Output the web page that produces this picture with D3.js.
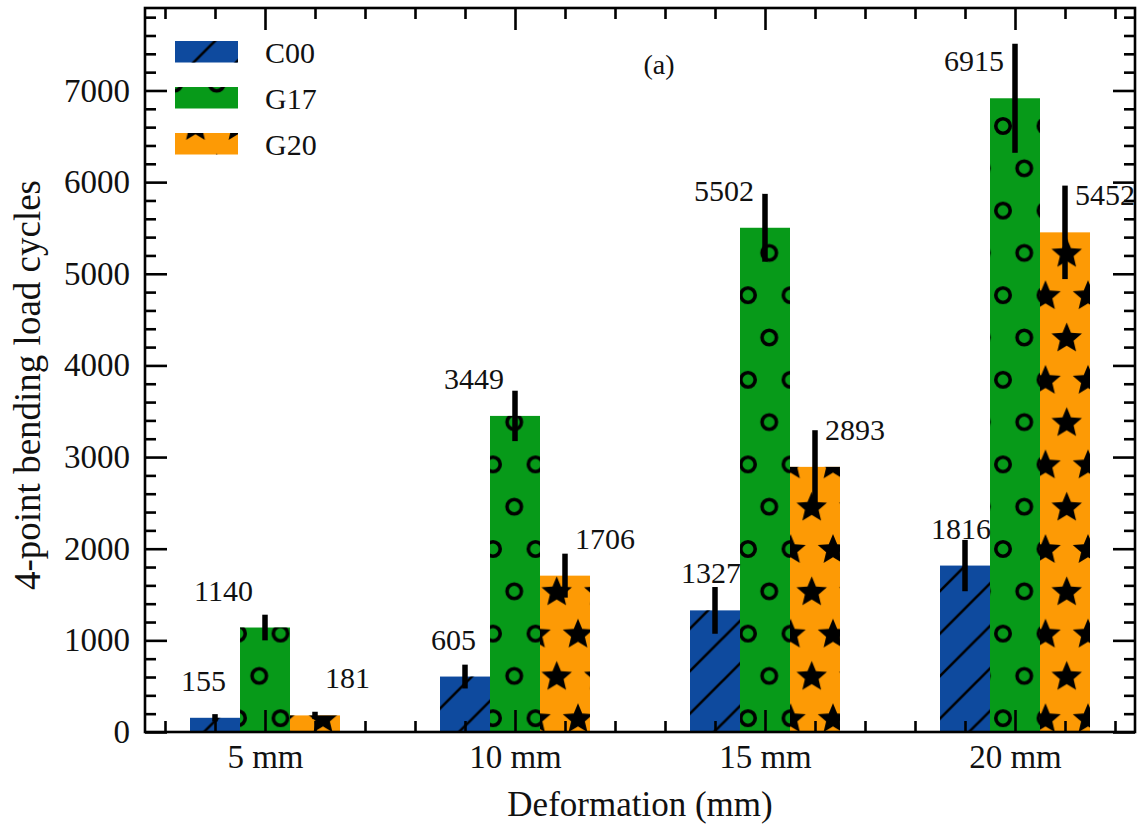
<!DOCTYPE html>
<html>
<head>
<meta charset="utf-8">
<script src="https://cdn.jsdelivr.net/npm/d3@7"></script>
<style>
  body { margin: 0; background: #fff; }
  svg text { font-family: "Liberation Serif", "Times New Roman", serif; }
</style>
</head>
<body>
<script>
// chart data
const categories = ["5 mm", "10 mm", "15 mm", "20 mm"];
const seriesNames = ["C00", "G17", "G20"];
const c00 = [155, 605, 1327, 1816];
const g17 = [1140, 3449, 5502, 6915];
const g20 = [181, 1706, 2893, 5452];
const c00Err = [40, 130, 255, 280];
const g17Err = [140, 275, 370, 595];
const g20Err = [40, 240, 400, 510];
const yTicks = [0, 1000, 2000, 3000, 4000, 5000, 6000, 7000];

const values = [c00, g17, g20];
const errors = [c00Err, g17Err, g20Err];
const colors = ["#0e4a9e", "#079a19", "#fd9a05"];
const patterns = ["hatch", "rings", "stars"];
const labelShift = [-9, -46, 35]; // text left edge relative to bar left

const w = 1137;
const h = 832;

const svg = d3.select("body")
  .append("svg")
  .attr("width", w)
  .attr("height", h);

const x = d3.scaleLinear().domain([-0.48, 3.48]).range([145, 1135]);
const y = d3.scaleLinear().domain([0, 7900]).range([732, 8]);

//patterns, anchored to the page like matplotlib hatches
const P = 42.5, Q = 42.3;
const defs = svg.append("defs");

const hatch = defs.append("pattern")
  .attr("id", "hatch")
  .attr("patternUnits", "userSpaceOnUse")
  .attr("x", 0).attr("y", 1)
  .attr("width", P).attr("height", P);
hatch.append("path")
  .attr("d", `M0,${P} L${P},0 M${-P/4},${P/4} L${P/4},${-P/4} M${3*P/4},${5*P/4} L${5*P/4},${3*P/4}`)
  .attr("stroke", "#000")
  .attr("stroke-width", 2.6);

const lattice = [[0, 0], [P, 0], [0, 2*Q], [P, 2*Q], [P/2, Q]];

const rings = defs.append("pattern")
  .attr("id", "rings")
  .attr("patternUnits", "userSpaceOnUse")
  .attr("x", 25.5).attr("y", 41.4)
  .attr("width", P).attr("height", 2*Q);
rings.selectAll("circle")
  .data(lattice)
  .enter()
  .append("circle")
  .attr("cx", d => d[0])
  .attr("cy", d => d[1])
  .attr("r", 7.2)
  .attr("fill", "none")
  .attr("stroke", "#000")
  .attr("stroke-width", 3.6);

function starPath(cx, cy, R, r) {
  let pts = [];
  for (let k = 0; k < 10; k++) {
    const a = -Math.PI / 2 + k * Math.PI / 5;
    const rad = k % 2 === 0 ? R : r;
    pts.push([cx + rad * Math.cos(a), cy + rad * Math.sin(a)]);
  }
  return "M" + pts.map(p => p.join(",")).join("L") + "Z";
}

const stars = defs.append("pattern")
  .attr("id", "stars")
  .attr("patternUnits", "userSpaceOnUse")
  .attr("x", 25.5).attr("y", 41.4)
  .attr("width", P).attr("height", 2*Q);
stars.selectAll("path")
  .data(lattice)
  .enter()
  .append("path")
  .attr("d", d => starPath(d[0], d[1] + 1, 16, 7.2))
  .attr("fill", "#000");

//bars
const bw = 0.2;
values.forEach(function(vals, s) {
  const off = (s - 1) * bw;
  const g = svg.append("g").attr("class", "series-" + s);
  g.selectAll(".bar")
    .data(vals)
    .enter()
    .append("rect")
    .attr("class", "bar")
    .attr("x", (d, i) => x(i + off - bw / 2))
    .attr("width", x(bw) - x(0))
    .attr("y", d => y(d))
    .attr("height", d => y(0) - y(d))
    .attr("fill", colors[s]);
  g.selectAll(".pat")
    .data(vals)
    .enter()
    .append("rect")
    .attr("class", "pat")
    .attr("x", (d, i) => x(i + off - bw / 2))
    .attr("width", x(bw) - x(0))
    .attr("y", d => y(d))
    .attr("height", d => y(0) - y(d))
    .attr("fill", "url(#" + patterns[s] + ")");
});

//error bars
values.forEach(function(vals, s) {
  const off = (s - 1) * bw;
  svg.append("g").selectAll("line")
    .data(vals)
    .enter()
    .append("line")
    .attr("x1", (d, i) => x(i + off))
    .attr("x2", (d, i) => x(i + off))
    .attr("y1", (d, i) => y(d - errors[s][i]))
    .attr("y2", (d, i) => y(d + errors[s][i]))
    .attr("stroke", "#000")
    .attr("stroke-width", 5.5);
});

//axes: inward ticks on all four sides
const minorX = d3.range(-2, 18).filter(k => k % 5 !== 0).map(k => k * 0.2);
const minorY = d3.range(0, 40).filter(k => k % 5 !== 0).map(k => k * 200);

function styleAxis(g, size) {
  g.select(".domain").remove();
  g.attr("font-family", null).attr("font-size", size);
  g.selectAll(".tick line").attr("stroke-width", 2.6);
  g.selectAll(".tick text").attr("fill", "#111");
}

svg.append("g")
  .attr("transform", "translate(0,732)")
  .call(d3.axisBottom(x).tickValues([0, 1, 2, 3]).tickFormat(i => categories[i])
    .tickSizeInner(-22).tickSizeOuter(0).tickPadding(13))
  .call(g => styleAxis(g, 33));
svg.append("g")
  .attr("transform", "translate(0,732)")
  .call(d3.axisBottom(x).tickValues(minorX).tickFormat("").tickSizeInner(-11).tickSizeOuter(0))
  .call(g => styleAxis(g, 10));
svg.append("g")
  .attr("transform", "translate(0,8)")
  .call(d3.axisTop(x).tickValues([0, 1, 2, 3]).tickFormat("").tickSizeInner(-22).tickSizeOuter(0))
  .call(g => styleAxis(g, 10));
svg.append("g")
  .attr("transform", "translate(0,8)")
  .call(d3.axisTop(x).tickValues(minorX).tickFormat("").tickSizeInner(-11).tickSizeOuter(0))
  .call(g => styleAxis(g, 10));

svg.append("g")
  .attr("transform", "translate(145,0)")
  .call(d3.axisLeft(y).tickValues(yTicks).tickFormat(d3.format("d"))
    .tickSizeInner(-22).tickSizeOuter(0).tickPadding(15))
  .call(g => styleAxis(g, 33));
svg.append("g")
  .attr("transform", "translate(145,0)")
  .call(d3.axisLeft(y).tickValues(minorY).tickFormat("").tickSizeInner(-11).tickSizeOuter(0))
  .call(g => styleAxis(g, 10));
svg.append("g")
  .attr("transform", "translate(1135,0)")
  .call(d3.axisRight(y).tickValues(yTicks).tickFormat("").tickSizeInner(-22).tickSizeOuter(0))
  .call(g => styleAxis(g, 10));
svg.append("g")
  .attr("transform", "translate(1135,0)")
  .call(d3.axisRight(y).tickValues(minorY).tickFormat("").tickSizeInner(-11).tickSizeOuter(0))
  .call(g => styleAxis(g, 10));

//frame
svg.append("rect")
  .attr("x", x.range()[0])
  .attr("y", y.range()[1])
  .attr("width", x.range()[1] - x.range()[0])
  .attr("height", y.range()[0] - y.range()[1])
  .attr("fill", "none")
  .attr("stroke", "#000")
  .attr("stroke-width", 2.6);

//value labels
values.forEach(function(vals, s) {
  const off = (s - 1) * bw;
  svg.append("g").selectAll("text")
    .data(vals)
    .enter()
    .append("text")
    .attr("x", (d, i) => x(i + off - bw / 2) + labelShift[s])
    .attr("y", d => y(d) - 27)
    .attr("font-size", 30)
    .attr("fill", "#111")
    .text(d => d);
});

//legend
const legend = svg.selectAll(".legend")
  .data(seriesNames)
  .enter()
  .append("g")
  .attr("class", "legend");

legend.append("rect")
  .attr("x", 175).attr("width", 63)
  .attr("y", (d, i) => 41 + i * 46).attr("height", 21.5)
  .attr("fill", (d, i) => colors[i]);
legend.append("rect")
  .attr("x", 175).attr("width", 63)
  .attr("y", (d, i) => 41 + i * 46).attr("height", 21.5)
  .attr("fill", (d, i) => "url(#" + patterns[i] + ")");
legend.append("text")
  .attr("x", 265)
  .attr("y", (d, i) => 63 + i * 46)
  .attr("font-size", 30)
  .attr("fill", "#111")
  .text(d => d);

svg.append("text")
  .attr("x", 659).attr("y", 74)
  .attr("text-anchor", "middle")
  .attr("font-size", 28)
  .attr("fill", "#111")
  .text("(a)");

//axis titles
svg.append("text")
  .attr("x", 640).attr("y", 816)
  .attr("text-anchor", "middle")
  .attr("font-size", 35)
  .attr("fill", "#111")
  .text("Deformation (mm)");

svg.append("text")
  .attr("transform", "translate(40,385) rotate(-90)")
  .attr("text-anchor", "middle")
  .attr("font-size", 37)
  .attr("fill", "#111")
  .text("4-point bending load cycles");
</script>
</body>
</html>
